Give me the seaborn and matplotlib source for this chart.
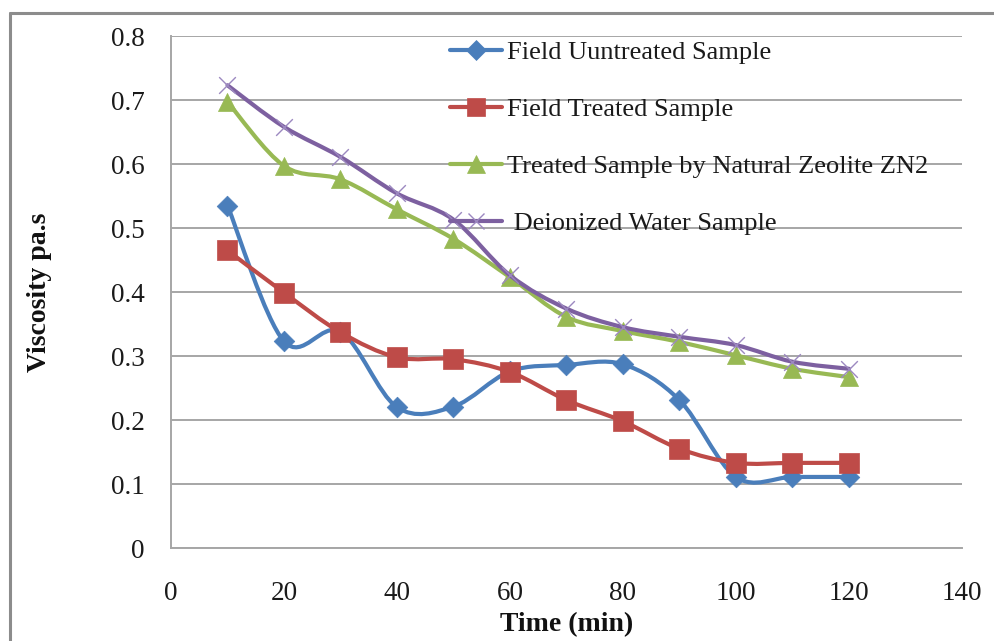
import numpy as np
import pandas as pd
import matplotlib
matplotlib.use("Agg")
import matplotlib.pyplot as plt
import seaborn as sns
from matplotlib.path import Path
from matplotlib.patches import PathPatch
from matplotlib.lines import Line2D

# ---- data ----
time_min = [10, 20, 30, 40, 50, 60, 70, 80, 90, 100, 110, 120]
field_untreated = [0.535, 0.323, 0.338, 0.220, 0.221, 0.276, 0.286, 0.287, 0.231, 0.111, 0.111, 0.111]
field_treated = [0.465, 0.399, 0.337, 0.298, 0.295, 0.275, 0.231, 0.198, 0.155, 0.133, 0.133, 0.133]
zeolite_zn2 = [0.697, 0.597, 0.576, 0.529, 0.483, 0.423, 0.361, 0.339, 0.322, 0.301, 0.280, 0.267]
deionized = [0.723, 0.658, 0.611, 0.554, 0.513, 0.426, 0.374, 0.345, 0.330, 0.317, 0.291, 0.280]

series_names = ["Field Uuntreated Sample", "Field Treated Sample",
                "Treated Sample by Natural Zeolite ZN2", "Deionized Water Sample"]
series_values = [field_untreated, field_treated, zeolite_zn2, deionized]
x_ticks = [0, 20, 40, 60, 80, 100, 120, 140]
y_ticks = [0, 0.1, 0.2, 0.3, 0.4, 0.5, 0.6, 0.7, 0.8]

colors = ["#4A7EBB", "#BE4B48", "#98B954", "#7D60A0"]
markers = ["D", "s", "^", "x"]
msizes = [10.5, 14, 13, 12]

df = pd.concat([pd.DataFrame({"time": time_min, "viscosity": v, "series": n})
                for n, v in zip(series_names, series_values)], ignore_index=True)

sns.set_theme(style="white")
plt.rcParams["font.family"] = ["Liberation Serif", "DejaVu Serif"]

fig = plt.figure(figsize=(9.95, 6.41), dpi=100)
ax = fig.add_axes([171 / 995, 1 - 548 / 641, (962 - 171) / 995, (548 - 36) / 641])


def smooth_path(xs, ys):
    pts = np.column_stack([xs, ys]).astype(float)
    n = len(pts)
    verts = [tuple(pts[0])]
    codes = [Path.MOVETO]
    for i in range(n - 1):
        p0 = pts[max(i - 1, 0)]
        p1 = pts[i]
        p2 = pts[i + 1]
        p3 = pts[min(i + 2, n - 1)]
        c1 = p1 + (p2 - p0) / 6.0
        c2 = p2 - (p3 - p1) / 6.0
        verts += [tuple(c1), tuple(c2), tuple(p2)]
        codes += [Path.CURVE4] * 3
    return Path(verts, codes)


handles = []
for k, (name, col, mk, ms) in enumerate(zip(series_names, colors, markers, msizes)):
    sub = df[df["series"] == name]
    patch = PathPatch(smooth_path(sub["time"], sub["viscosity"]), facecolor="none",
                      edgecolor=col, lw=3.0, zorder=3 + 2 * k, capstyle="round",
                      joinstyle="round")
    ax.add_patch(patch)
    if mk == "x":
        sns.scatterplot(data=sub, x="time", y="viscosity", marker="x", s=ms ** 2,
                        color="#9C88C0", linewidth=1.0, ax=ax, zorder=4 + 2 * k,
                        legend=False)
    else:
        sns.scatterplot(data=sub, x="time", y="viscosity", marker=mk, s=ms ** 2,
                        color=col, edgecolor=col, linewidth=0.5, ax=ax,
                        zorder=4 + 2 * k, legend=False)
    handles.append(Line2D([], [], color=col, lw=3.0, marker=mk, markersize=ms * 0.95,
                          markeredgecolor=(col if mk != "x" else "#9C88C0"),
                          markerfacecolor=col, markeredgewidth=(1.0 if mk == "x" else 0.5)))

ax.set_xlim(0, 140)
ax.set_ylim(0, 0.8)
ax.set_xticks(x_ticks)
ax.set_yticks(y_ticks)
ax.set_xticklabels([str(t) for t in x_ticks])
ax.set_yticklabels(["0" if t == 0 else f"{t:.1f}" for t in y_ticks])
ax.tick_params(axis="both", length=0, labelsize=19.5, colors="#1a1a1a")
ax.tick_params(axis="y", pad=19)
ax.tick_params(axis="x", pad=24)

ax.yaxis.grid(True, color="#A6A6A6", lw=1.4)
ax.xaxis.grid(False)
ax.set_axisbelow(True)
for s in ["top", "right"]:
    ax.spines[s].set_visible(False)
for s in ["left", "bottom"]:
    ax.spines[s].set_color("#A6A6A6")
    ax.spines[s].set_linewidth(1.4)

ax.set_xlabel("Time (min)", fontsize=20, fontweight="bold", labelpad=4, color="#111111")
ax.set_ylabel("Viscosity pa.s", fontsize=20, fontweight="bold", labelpad=42, color="#111111")

leg = ax.legend(handles, series_names[:3] + [" " + series_names[3]],
                loc="upper left", bbox_to_anchor=(0.339, 1.012), frameon=False,
                fontsize=19, handlelength=1.97, handletextpad=0.2, labelspacing=1.27,
                borderaxespad=0)
for t in leg.get_texts():
    t.set_color("#1a1a1a")
leg.set_zorder(20)

# outer chart frame (partially visible)
fig.add_artist(Line2D([10 / 995, 10 / 995], [0, 1 - 13 / 641], transform=fig.transFigure,
                      color="#8C8C8C", lw=2.2))
fig.add_artist(Line2D([10 / 995, 1], [1 - 13 / 641, 1 - 13 / 641], transform=fig.transFigure,
                      color="#8C8C8C", lw=2.2))

fig.savefig("out.png", dpi=100)
